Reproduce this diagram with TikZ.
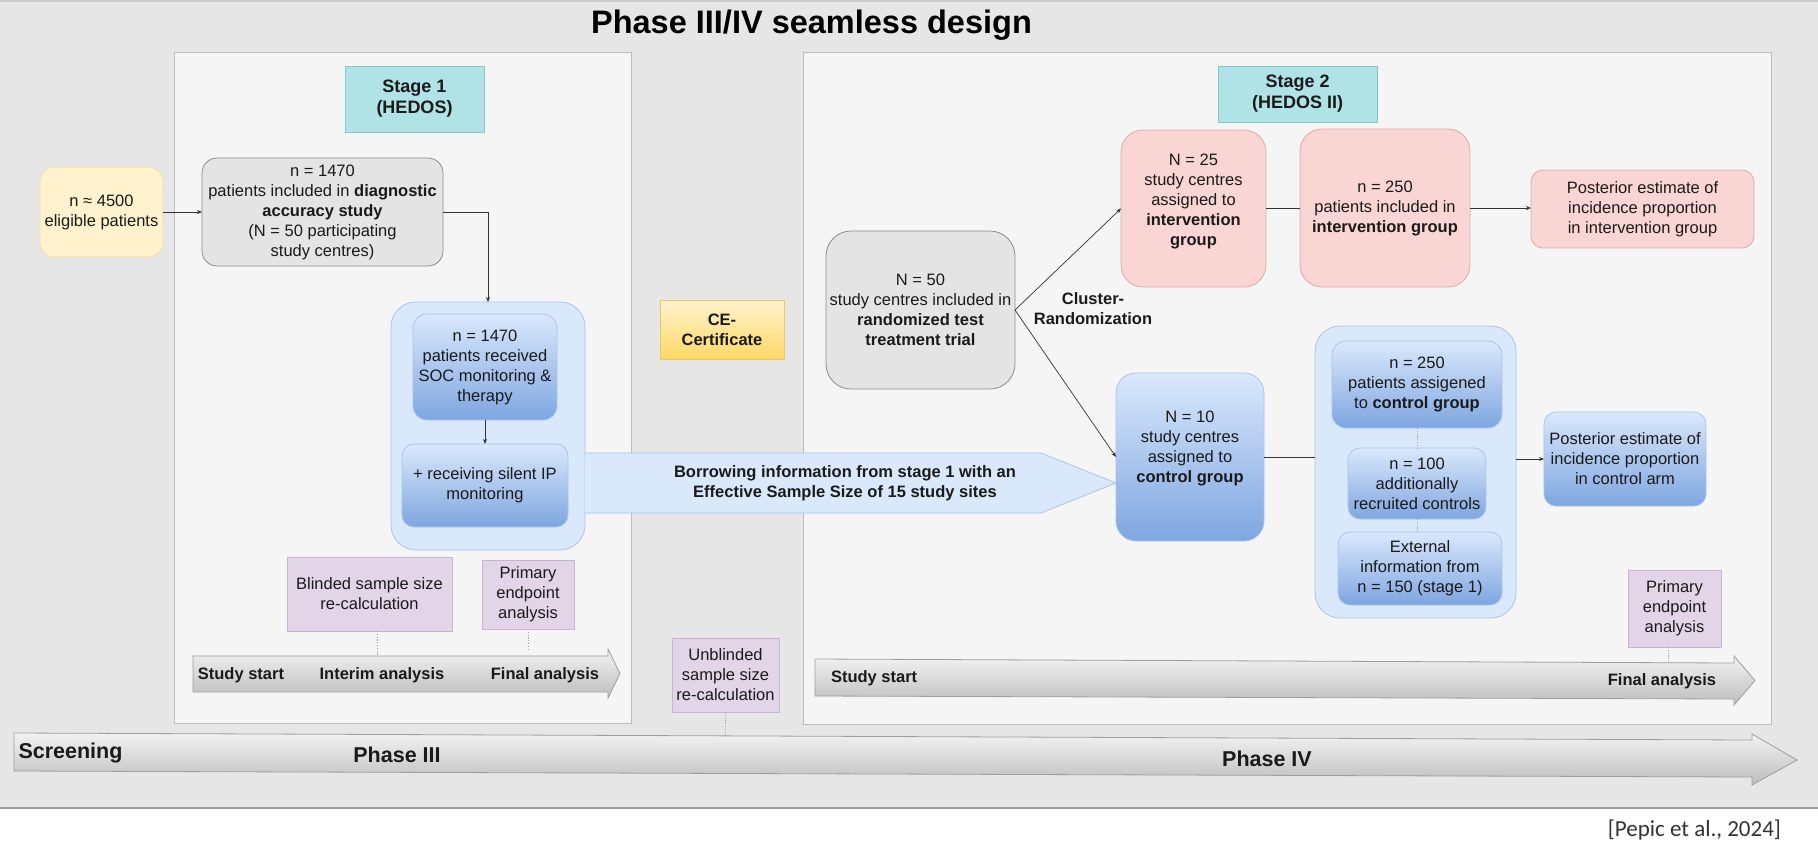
\documentclass[tikz,border=0pt]{standalone}
\usepackage{fontspec}
\setmainfont{Liberation Sans}
\newfontfamily\citefont{Carlito}
\usetikzlibrary{arrows.meta}

\definecolor{pagebg}{HTML}{E6E6E6}
\definecolor{panelbg}{HTML}{F5F5F5}
\definecolor{panelln}{HTML}{BDBDBD}
\definecolor{greyfill}{HTML}{E4E4E4}
\definecolor{greyln}{HTML}{8C8C8C}
\definecolor{yelfill}{HTML}{FFF2CC}
\definecolor{yelln}{HTML}{F0DDA4}
\definecolor{tealfill}{HTML}{B0E3E6}
\definecolor{tealln}{HTML}{85C7CB}
\definecolor{bluelight}{HTML}{DAE8FC}
\definecolor{bluedark}{HTML}{7EA6E0}
\definecolor{blueln}{HTML}{A9C4EB}
\definecolor{redfill}{HTML}{F9D6D3}
\definecolor{redln}{HTML}{E2A9A5}
\definecolor{purfill}{HTML}{E1D5E7}
\definecolor{purln}{HTML}{C8B3D4}
\definecolor{cetop}{HTML}{FFF2CC}
\definecolor{cebot}{HTML}{FFD966}
\definecolor{celn}{HTML}{E8C96A}
\definecolor{tltop}{HTML}{F2F2F2}
\definecolor{tlbot}{HTML}{BDBDBD}
\definecolor{tlln}{HTML}{9E9E9E}
\definecolor{ink}{HTML}{1A1A1A}
\definecolor{wire}{HTML}{333333}

\begin{document}
\begin{tikzpicture}[
  x=1pt, y=-1pt,
  every node/.style={inner sep=0pt, outer sep=0pt},
  wh/.style 2 args={minimum width=#1pt, minimum height=#2pt},
  txt/.style={font=\fontsize{16.5}{20}\selectfont, align=center, text=ink},
  btxt/.style={font=\fontsize{16.5}{20}\selectfont\bfseries, align=center, text=ink},
  stagetxt/.style={font=\fontsize{18}{21}\selectfont\bfseries, align=center, text=ink},
  phasetxt/.style={font=\fontsize{21.5}{24}\selectfont\bfseries, text=ink},
  greybox/.style={draw=greyln, fill=greyfill, line width=0.8pt},
  yelbox/.style={draw=yelln, fill=yelfill, line width=0.8pt},
  tealbox/.style={draw=tealln, fill=tealfill, line width=0.8pt},
  redbox/.style={draw=redln, fill=redfill, line width=0.8pt},
  purbox/.style={draw=purln, fill=purfill, line width=0.8pt},
  bluecont/.style={draw=blueln, fill=bluelight, line width=0.8pt},
  bluegrad/.style={draw=blueln, top color=bluelight, bottom color=bluedark, line width=0.8pt},
  cebox/.style={draw=celn, top color=cetop, bottom color=cebot, line width=0.8pt},
  timeline/.style={draw=tlln, top color=tltop, bottom color=tlbot, line width=0.8pt},
  conn/.style={draw=wire, line width=0.7pt, -{Stealth[length=5pt,width=4pt]}},
  plain/.style={draw=wire, line width=0.7pt},
  dots/.style={draw=gray!70, line width=0.8pt, dash pattern=on 1.2pt off 1.6pt},
]
\useasboundingbox (0,0) rectangle (1818,852);

% page background
\fill[white] (0,0) rectangle (1818,852);
\fill[pagebg] (0,0) rectangle (1818,808);
\fill[gray!40] (0,0) rectangle (1818,2);
\draw[gray!75, line width=1.5pt] (0,808) -- (1818,808);

% title
\node[font=\fontsize{32.5}{36}\selectfont\bfseries, text=black, anchor=base] (title) at (811.5,33) {Phase III/IV seamless design};

% stage panels
\draw[draw=panelln, fill=panelbg, line width=0.8pt] (174,52) rectangle (631,723);
\draw[draw=panelln, fill=panelbg, line width=0.8pt] (803,52) rectangle (1771,724);

% ---------------- Stage 1 ----------------
\node[tealbox, wh={139}{66}] (st1) at (414.5,99) {};
\node[stagetxt] (st1T) at (st1.center) {Stage 1\\(HEDOS)};

\node[yelbox, rounded corners=14pt, wh={123}{90}] (elig) at (101.5,212) {};
\node[txt] (eligT) at (elig.center) {n ≈ 4500\\eligible patients};

\node[greybox, rounded corners=15pt, wh={241}{108}] (diag) at (322.5,212) {};
\node[txt] (diagT) at (diag.center) {n = 1470\\patients included in \textbf{diagnostic}\\\textbf{accuracy study}\\(N = 50 participating\\study centres)};

\node[bluecont, rounded corners=25pt, wh={194}{248}] (cont1) at (488,426) {};
\node[bluegrad, rounded corners=14pt, wh={144}{106}] (soc) at (485,367) {};
\node[txt] (socT) at (soc.center) {n = 1470\\patients received\\SOC monitoring \&\\therapy};
\node[bluegrad, rounded corners=12pt, wh={166}{83}] (silent) at (485,485.5) {};
\node[txt] (silentT) at (silent.center) {+ receiving silent IP\\monitoring};

\draw[conn] (elig.east) -- (diag.west);
\draw[conn] (diag.east) -| (cont1.north);
\draw[conn] (soc.south) -- (silent.north);

\node[purbox, wh={165}{74}] (blind) at (369.5,594) {};
\node[txt] (blindT) at (blind.center) {Blinded sample size\\re-calculation};
\node[purbox, wh={92}{69}] (prim1) at (528,594.5) {};
\node[txt] (prim1T) at (prim1.center) {Primary\\endpoint\\analysis};

% stage 1 time line
\draw[timeline] (193,656) -- (608,656) -- (608,649) -- (620,673.5) -- (608,698) -- (608,692) -- (193,692) -- cycle;
\coordinate (tl1i) at (377,656);
\coordinate (tl1f) at (528,650);
\node[btxt] (tl1a) at (241,675) {Study start};
\node[btxt] (tl1b) at (382,675) {Interim analysis};
\node[btxt] (tl1c) at (545,675) {Final analysis};
\draw[dots] (tl1i |- blind.south) -- (tl1i);
\draw[dots] (prim1.south) -- (tl1f);

% ---------------- between the stages ----------------
\node[cebox, wh={124}{59}] (ce) at (722,329.5) {};
\node[btxt] (ceT) at (ce.center) {CE-\\Certificate};

\node[purbox, wh={107}{74}] (unbl) at (725.5,675) {};
\node[txt] (unblT) at (unbl.center) {Unblinded\\sample size\\re-calculation};

% ---------------- Stage 2 ----------------
\node[tealbox, wh={159}{56}] (st2) at (1297.5,94) {};
\node[stagetxt] (st2T) at (st2.center) {Stage 2\\(HEDOS II)};

\node[greybox, rounded corners=25pt, wh={189}{158}] (trial) at (920.5,310) {};
\node[txt] (trialT) at (trial.center) {N = 50\\study centres included in\\\textbf{randomized test}\\\textbf{treatment trial}};

\node[redbox, rounded corners=22pt, wh={145}{157}] (int1) at (1193.5,208.5) {};
\node[txt] (int1T) at (1193.5,201.5) {N = 25\\study centres\\assigned to\\\textbf{intervention}\\\textbf{group}};
\node[redbox, rounded corners=22pt, wh={170}{158}] (int2) at (1385,208) {};
\node[txt] (int2T) at (int2.center) {n = 250\\patients included in\\\textbf{intervention group}};
\node[redbox, rounded corners=12pt, wh={223}{78}] (postI) at (1642.5,209) {};
\node[txt] (postIT) at (postI.center) {Posterior estimate of\\incidence proportion\\in intervention group};

\node[btxt] (clust) at (1093,308.5) {Cluster-\\Randomization};

% borrowing arrow
\draw[draw=blueln, fill=bluelight, line width=0.8pt] (585,453) -- (1041,453) -- (1116,483) -- (1041,513) -- (585,513);
\node[btxt] (borrowT) at (845,483) {Borrowing information from stage 1 with an\\Effective Sample Size of 15 study sites};

\node[bluegrad, rounded corners=20pt, wh={148}{168}] (ctrl) at (1190,457) {};
\node[txt] (ctrlT) at (1190,448) {N = 10\\study centres\\assigned to\\\textbf{control group}};

\node[bluecont, rounded corners=25pt, wh={201}{292}] (cont2) at (1415.5,472) {};
\node[bluegrad, rounded corners=14pt, wh={170}{87}] (c1) at (1417,384.5) {};
\node[txt] (c1T) at (c1.center) {n = 250\\patients assigened\\to \textbf{control group}};
\node[bluegrad, rounded corners=12pt, wh={138}{71}] (c2) at (1417,483.5) {};
\node[txt] (c2T) at (c2.center) {n = 100\\additionally\\recruited controls};
\node[bluegrad, rounded corners=12pt, wh={164}{73}] (c3) at (1420,568.5) {};
\node[txt] (c3T) at (c3.center) {External\\information from\\n = 150 (stage 1)};
\draw[dots] (c1.south) -- (c2.north);
\draw[dots] (c2.south) -- (c2.south |- c3.north);

\node[bluegrad, rounded corners=12pt, wh={162}{94}] (postC) at (1625,459) {};
\node[txt] (postCT) at (postC.center) {Posterior estimate of\\incidence proportion\\in control arm};

\draw[conn] (trial.east) -- (int1.west);
\draw[conn] (trial.east) -- (ctrl.west);
\draw[plain] (int1.east) -- (int1.east -| int2.west);
\draw[conn] (int2.east) -- (int2.east -| postI.west);
\draw[plain] (ctrl.east) -- (ctrl.east -| cont2.west);
\draw[conn] (postC.west -| cont2.east) -- (postC.west);

\node[purbox, wh={93}{77}] (prim2) at (1674.5,608.5) {};
\node[txt] (prim2T) at (prim2.center) {Primary\\endpoint\\analysis};

% stage 2 time line
\draw[timeline] (815,659) -- (1734,663) -- (1734,656) -- (1755,680.5) -- (1734,705) -- (1734,699) -- (815,696) -- cycle;
\coordinate (tl2f) at (1668,662);
\node[btxt, anchor=west] (tl2a) at (831,678) {Study start};
\node[btxt] (tl2b) at (1662,681) {Final analysis};
\draw[dots] (tl2f |- prim2.south) -- (tl2f);

% ---------------- phase bar ----------------
\draw[timeline] (14,733) -- (1752,740) -- (1752,734) -- (1797,760) -- (1752,785) -- (1752,777) -- (14,771) -- cycle;
\coordinate (pbu) at (725.5,736);
\node[phasetxt] (scr) at (70.5,753) {Screening};
\node[phasetxt] (ph3) at (397,755) {Phase III};
\node[phasetxt] (ph4) at (1267,759) {Phase IV};
\draw[dots] (unbl.south) -- (pbu);

% reference
\node[font=\citefont\fontsize{23}{26}\selectfont, text=black!80, anchor=base east] (cite) at (1781,836) {[Pepic et al., 2024]};
\end{tikzpicture}
\end{document}
